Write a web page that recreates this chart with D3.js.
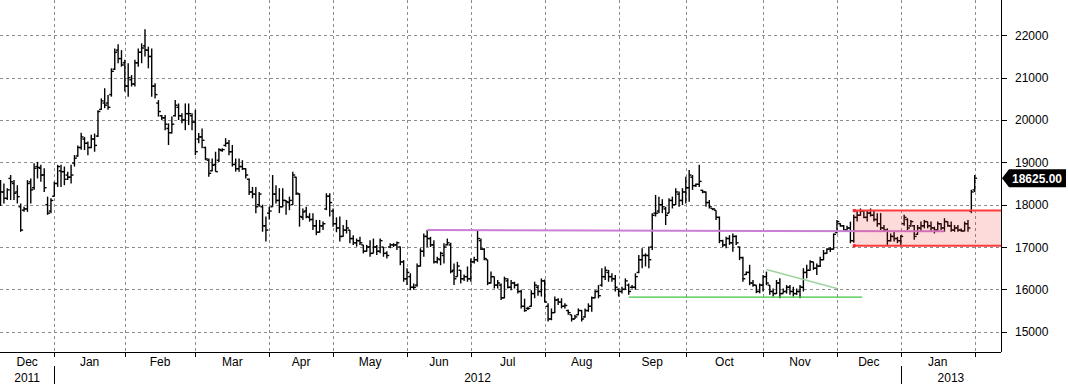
<!DOCTYPE html>
<html>
<head>
<meta charset="utf-8">
<script src="https://cdn.jsdelivr.net/npm/d3@7"></script>
<style>
body{margin:0;background:#fff;}
svg{display:block;font-family:"Liberation Sans",Arial,sans-serif;}
</style>
</head>
<body>
<div id="plot"></div>
<script>
// daily bars, one array per month, each bar is [open, high, low, close]
var dec11 = [[18420,18580,17970,18300],[18300,18500,18030,18150],[18150,18390,18110,18350],[18620,18700,18110,18540],
  [18500,18580,18110,18270],[18300,18460,18030,18190],[17950,18030,17360,17400],[17870,17950,17830,17900],
  [17900,18580,17830,18500],[18540,18620,18030,18350],[18400,18980,18350,18860],[18900,19010,18620,18880],
  [18860,18940,18540,18700],[18700,18860,18300,18400],[18000,18190,17760,17800],[17850,18150,17800,18100]];
var jan12 = [[18200,18540,18190,18500],[18500,18940,18420,18900],[18800,18940,18420,18780],[18780,18900,18460,18600],
  [18700,18780,18580,18650],[18650,18940,18500,18700],[18980,19170,18900,19100],[19150,19400,19130,19350],
  [19350,19700,19300,19600],[19550,19600,19290,19450],[19450,19490,19170,19350],[19350,19650,19330,19550],
  [19550,19680,19250,19400],[19620,20230,19600,20200],[20250,20510,20240,20450],[20400,20750,20280,20350],
  [20400,20590,20240,20300],[20600,21220,20550,21150],[21200,21690,21180,21600],[21650,21790,21340,21450],
  [21450,21650,21260,21300]];
var feb12 = [[21350,21420,20670,20800],[20800,21340,20550,21000],[20950,21060,20790,20850],[20850,21420,20790,21350],
  [21350,21690,21260,21600],[21600,21810,21340,21700],[21750,22140,21500,21650],[21650,21730,21220,21500],
  [21500,21690,20550,20800],[20800,20870,20510,20600],[20400,20470,20080,20200],[20100,20120,20000,20050],
  [20050,20120,19760,19900],[19800,19920,19410,19700],[19700,20080,19680,19900],[20100,20470,20080,20350],
  [20300,20390,20000,20100],[20100,20160,19920,20000],[20000,20390,19760,20150],[20150,20390,19880,20150],
  [20100,20160,19760,19950]];
var mar12 = [[19950,20240,19170,19250],[19550,19690,19450,19600],[19600,19800,19330,19520],[19350,19370,19050,19080],
  [19050,19090,18660,18740],[18800,19090,18790,18930],[18950,19250,18780,18780],[19050,19330,19010,19300],
  [19280,19330,19250,19300],[19400,19570,19370,19450],[19450,19530,19170,19250],[19250,19410,18900,18950],
  [18950,19090,18780,18850],[18850,19090,18780,18900],[18900,19050,18820,18850],[18850,18860,18620,18700],
  [18600,18620,18230,18300],[18300,18420,18150,18250],[18250,18420,17800,17950],[18000,18300,17950,18250],
  [17950,18000,17360,17500],[17500,17720,17130,17400]];
var apr12 = [[17800,17950,17650,17850],[17950,18700,17950,18250],[18250,18460,18030,18100],[18100,18390,17800,17950],
  [17950,18390,17940,18100],[18100,18110,17760,18070],[18050,18190,17870,18100],[18000,18780,17990,18700],
  [18650,18660,18230,18270],[18250,18270,17480,17720],[17700,17910,17640,17830],[17850,17950,17680,17720],
  [17700,17800,17600,17650],[17650,17800,17400,17500],[17500,17640,17280,17350],[17350,17640,17340,17500],
  [17500,17600,17400,17550],[17900,18270,17870,18200],[18200,18270,17720,18050]];
var may12 = [[17850,17910,17480,17550],[17550,17700,17350,17450],[17450,17720,17130,17250],[17250,17520,17240,17400],
  [17400,17640,17320,17450],[17400,17400,17090,17200],[17200,17280,17050,17100],[17100,17200,17010,17150],
  [17150,17240,17050,17100],[17050,17050,16850,16900],[16900,17050,16890,17000],[17000,17160,16770,16850],
  [16850,17200,16850,17000],[17000,17050,16810,16900],[16900,17200,16850,17150],[17000,17000,16770,16850],
  [16850,16900,16730,16800],[17000,17090,16970,17050],[17050,17090,17000,17050],[17050,17130,16930,17100],
  [17000,17010,16570,16650],[16650,16690,16180,16250]];
var jun12 = [[16250,16500,16100,16400],[16300,16380,15980,16050],[16050,16140,15990,16050],[16100,16610,16060,16550],
  [16550,16970,16540,16900],[16900,17320,16770,17250],[17250,17400,17000,17200],[17200,17240,17000,17050],
  [17050,17160,16610,16650],[16650,16770,16610,16720],[16700,16890,16570,16850],[16800,17090,16610,17000],
  [17050,17200,17040,17100],[17050,17100,16380,16420],[16450,16610,16100,16250],[16300,16650,16300,16550],
  [16450,16460,16140,16250],[16250,16350,16200,16300],[16300,16540,16180,16250]];
var jul12 = [[16250,16730,16180,16650],[16650,16770,16610,16700],[16700,17400,16650,17200],[17150,17200,16930,16950],
  [16950,16970,16690,16730],[16700,16700,16100,16150],[16150,16420,16140,16300],[16300,16300,16020,16100],
  [16100,16220,16020,16150],[16100,16140,15750,15800],[15800,16300,15790,16250],[16200,16260,16020,16050],
  [16050,16220,15980,16150],[16150,16180,16020,16100],[16100,16140,15900,15950],[15950,15990,15550,15600],
  [15600,15780,15470,15500],[15550,15590,15510,15550],[15600,15980,15590,15900],[15900,16180,15790,16100],
  [16050,16100,15850,15950],[15950,16260,15830,16200]];
var aug12 = [[16200,16230,15690,15700],[15600,15670,15240,15300],[15300,15550,15270,15450],[15450,15830,15440,15750],
  [15750,15790,15630,15700],[15700,15790,15550,15600],[15600,15670,15550,15620],[15500,15520,15400,15450],
  [15400,15400,15240,15300],[15300,15400,15300,15350],[15400,15550,15390,15500],[15500,15510,15240,15300],
  [15350,15550,15330,15500],[15500,15670,15470,15600],[15600,15830,15470,15800],[15800,15980,15790,15950],
  [15950,16100,15790,15850],[16100,16500,16060,16300],[16300,16540,16220,16450],[16400,16460,16180,16300],
  [16300,16380,16180,16250],[16250,16340,15950,16050]];
var sep12 = [[16000,16020,15830,15950],[15950,16060,15900,16000],[16000,16260,15990,16200],[16100,16140,15870,15950],
  [16050,16100,16020,16050],[16050,16380,15990,16300],[16400,16810,16380,16700],[16700,16970,16500,16800],
  [16800,16850,16540,16800],[16800,17010,16500,16700],[17000,17800,16930,17750],[17800,18230,17720,17800],
  [17850,18190,17800,18000],[18000,18130,17800,17950],[17900,17950,17520,17750],[17800,18150,17800,18100],
  [18100,18190,17910,18000],[18000,18390,17990,18300],[18250,18310,17950,18100],[18100,18390,17990,18300]];
var oct12 = [[18300,18660,18030,18400],[18400,18820,18070,18700],[18650,18700,18350,18450],[18450,18500,18420,18480],
  [18480,18940,18420,18550],[18340,18350,18270,18300],[18300,18310,17950,18050],[18050,18110,17910,17950],
  [17910,17910,17870,17900],[17870,17870,17640,17700],[17700,17720,17090,17150],[17150,17170,17000,17050],
  [17050,17240,16970,17200],[17200,17280,17050,17100],[17100,17320,16890,17250],[17250,17280,17050,17100],
  [17000,17010,16690,16750],[16750,16770,16180,16250],[16350,16420,16340,16400],[16400,16580,16100,16150],
  [16150,16220,16060,16100],[16100,16100,15910,15950],[15950,16140,15910,16100]];
var nov12 = [[16100,16340,15950,16300],[16300,16420,16100,16150],[16100,16100,15870,15950],[15950,16020,15830,15900],
  [15900,16220,15890,16150],[16150,16260,15790,15900],[15900,16020,15900,15950],[15950,16100,15900,16050],
  [16050,16100,15870,15950],[15950,16060,15830,15900],[15900,16020,15870,15950],[15950,16100,15790,16050],
  [16050,16500,15950,16400],[16400,16580,16260,16450],[16450,16690,16440,16650],[16650,16650,16460,16500],
  [16500,16610,16340,16550],[16550,16770,16530,16700],[16700,16930,16690,16850],[16850,16970,16840,16950],
  [16950,17000,16880,16950],[16950,17320,16940,17300]];
var dec12 = [[17350,17640,17320,17600],[17550,17560,17480,17500],[17500,17520,17360,17400],[17400,17500,17360,17450],
  [17450,17600,17090,17150],[17150,17760,17100,17700],[17700,17870,17600,17750],[17750,17910,17740,17850],
  [17850,17870,17680,17700],[17700,17870,17600,17800],[17800,17910,17720,17750],[17750,17870,17600,17650],
  [17650,17800,17480,17550],[17550,17800,17400,17450],[17450,17520,17360,17400],[17400,17440,17050,17150],
  [17150,17320,17130,17250],[17250,17360,17130,17200],[17200,17240,17090,17150]];
var jan13 = [[17150,17280,17050,17250],[17550,17760,17500,17700],[17650,17680,17400,17450],[17500,17640,17480,17600],
  [17500,17520,17170,17250],[17300,17520,17290,17450],[17450,17600,17360,17500],[17500,17640,17440,17600],
  [17600,17600,17440,17500],[17500,17600,17360,17450],[17450,17480,17320,17400],[17400,17600,17380,17550],
  [17550,17560,17400,17450],[17450,17680,17360,17600],[17600,17600,17480,17500],[17500,17600,17360,17400],
  [17400,17520,17360,17450],[17450,17520,17360,17400],[17400,17440,17360,17380],[17380,17600,17370,17550],
  [17550,17640,17360,17450],[17850,18350,17800,18300]];
var feb13 = [[18350,18700,18300,18625]];

// exchange holidays (no bar on these weekdays)
var holidays = ['2011-12-26','2011-12-27','2012-01-02','2012-04-06','2012-04-09','2012-05-07',
  '2012-06-04','2012-06-05','2012-08-27','2012-12-25','2012-12-26','2013-01-01'];

var yTicks = [15000,16000,17000,18000,19000,20000,21000,22000];
var lastPrice = 18625;

// drawn studies: [bar index, price]
var resistLine = [[127,17400],[281,17370]];
var supportLine = [[187,15815],[256.5,15815]];
var trendLine = [[228,16470],[249,16020]];
var rangeBox = {start:254, top:17860, bottom:17030};

var W = 1068, H = 384;
var plotR = 1001, plotB = 352;

var fmt = d3.timeFormat('%Y-%m-%d');
var days = d3.timeDay.range(new Date(2011,11,7), new Date(2013,1,2)).filter(function(d){
  var w = d.getDay();
  return w > 0 && w < 6 && holidays.indexOf(fmt(d)) < 0;
});
var bars = [].concat(dec11,jan12,feb12,mar12,apr12,may12,jun12,jul12,aug12,sep12,oct12,nov12,dec12,jan13,feb13);

var x = d3.scaleLinear().domain([0,290]).range([0.55,974.7]);
var y = d3.scaleLinear().domain([15000,22000]).range([331.7,35.3]);

var svg = d3.select('#plot').append('svg')
  .attr('width',W)
  .attr('height',H);

// month boundaries
var bounds = [];
days.forEach(function(d,i){
  if (i > 0 && d.getMonth() != days[i-1].getMonth()) bounds.push(i);
});

// grid
svg.append('g').selectAll('line').data(yTicks).enter().append('line')
  .attr('x1',0).attr('x2',plotR)
  .attr('y1',function(d){return Math.round(y(d))+0.5;})
  .attr('y2',function(d){return Math.round(y(d))+0.5;})
  .style('stroke','#8c8c8c').style('stroke-dasharray','3,3');
svg.append('g').selectAll('line').data(bounds).enter().append('line')
  .attr('x1',function(d){return Math.round(x(d))+0.5;})
  .attr('x2',function(d){return Math.round(x(d))+0.5;})
  .attr('y1',0).attr('y2',plotB)
  .style('stroke','#8c8c8c').style('stroke-dasharray','3,3');

// bars
var g = svg.append('g').style('stroke','#000').style('stroke-width',1.4);
bars.forEach(function(b,i){
  var cx = x(i);
  g.append('line').attr('x1',cx).attr('x2',cx).attr('y1',y(b[1])).attr('y2',y(b[2]));
  g.append('line').attr('x1',cx-2.2).attr('x2',cx).attr('y1',y(b[0])).attr('y2',y(b[0]));
  g.append('line').attr('x1',cx).attr('x2',cx+2.4).attr('y1',y(b[3])).attr('y2',y(b[3]));
});

// studies
svg.append('line')
  .attr('x1',x(resistLine[0][0])).attr('y1',y(resistLine[0][1]))
  .attr('x2',x(resistLine[1][0])).attr('y2',y(resistLine[1][1]))
  .style('stroke','#c97fd3').style('stroke-width',2);
svg.append('line')
  .attr('x1',x(supportLine[0][0])).attr('y1',y(supportLine[0][1]))
  .attr('x2',x(supportLine[1][0])).attr('y2',y(supportLine[1][1]))
  .style('stroke','#3fc43f').style('stroke-width',1.3);
svg.append('line')
  .attr('x1',x(trendLine[0][0])).attr('y1',y(trendLine[0][1]))
  .attr('x2',x(trendLine[1][0])).attr('y2',y(trendLine[1][1]))
  .style('stroke','#9fd49f').style('stroke-width',1.5);

var bx = x(rangeBox.start);
svg.append('rect')
  .attr('x',bx).attr('y',y(rangeBox.top))
  .attr('width',plotR-bx).attr('height',y(rangeBox.bottom)-y(rangeBox.top))
  .style('fill','rgba(250,40,40,0.17)');
[rangeBox.top,rangeBox.bottom].forEach(function(v){
  svg.append('line').attr('x1',bx).attr('x2',plotR).attr('y1',y(v)).attr('y2',y(v))
    .style('stroke','#ff3b3b').style('stroke-width',2);
  svg.append('rect').attr('x',bx-1).attr('y',y(v)-1.5).attr('width',3).attr('height',3)
    .style('fill','#ff2020');
});

// axes
svg.append('line').attr('x1',plotR+0.5).attr('x2',plotR+0.5).attr('y1',0).attr('y2',plotB)
  .style('stroke','#000');
svg.append('line').attr('x1',0).attr('x2',plotR).attr('y1',plotB+0.5).attr('y2',plotB+0.5)
  .style('stroke','#000');

var ya = svg.append('g');
ya.selectAll('line').data(yTicks).enter().append('line')
  .attr('x1',plotR).attr('x2',plotR+6)
  .attr('y1',function(d){return Math.round(y(d))+0.5;})
  .attr('y2',function(d){return Math.round(y(d))+0.5;})
  .style('stroke','#000');
ya.selectAll('text').data(yTicks).enter().append('text')
  .attr('x',1015).attr('y',function(d){return y(d)+4.5;})
  .style('font-size','12px').style('fill','#000')
  .text(function(d){return d;});

// month axis
var mNames = d3.timeFormat('%b');
svg.append('g').selectAll('line').data(bounds).enter().append('line')
  .attr('x1',function(d){return Math.round(x(d))+0.5;})
  .attr('x2',function(d){return Math.round(x(d))+0.5;})
  .attr('y1',plotB).attr('y2',plotB+5)
  .style('stroke','#000');
var starts = [0].concat(bounds);
starts.slice(0,-1).forEach(function(s,k){
  var x0 = k == 0 ? 0 : x(s);
  var x1 = x(starts[k+1]);
  svg.append('text').attr('x',(x0+x1)/2).attr('y',plotB+14)
    .attr('text-anchor','middle').style('font-size','12px')
    .text(mNames(days[s]));
});

// year axis
var yearStarts = [0].concat(bounds.filter(function(i){return days[i].getMonth() == 0;}));
yearStarts.forEach(function(s,k){
  var x0 = k == 0 ? 0 : x(s);
  var x1 = k < yearStarts.length-1 ? x(yearStarts[k+1]) : plotR;
  if (k > 0) {
    svg.append('line').attr('x1',Math.round(x0)+0.5).attr('x2',Math.round(x0)+0.5)
      .attr('y1',plotB+14).attr('y2',H).style('stroke','#000');
  }
  svg.append('text').attr('x',(x0+x1)/2).attr('y',plotB+30)
    .attr('text-anchor','middle').style('font-size','12px')
    .text(days[s].getFullYear());
});

// last price tag
var ly = y(lastPrice);
svg.append('path')
  .attr('d','M'+(plotR+1)+','+ly+' L'+(plotR+8)+','+(ly-9)+' L1066,'+(ly-9)+' L1066,'+(ly+9)+' L'+(plotR+8)+','+(ly+9)+' Z')
  .style('fill','#000');
svg.append('text').attr('x',1037).attr('y',ly+4.5)
  .attr('text-anchor','middle')
  .style('font-size','12px').style('font-weight','bold').style('fill','#fff')
  .text(d3.format('.2f')(lastPrice));
</script>
</body>
</html>
